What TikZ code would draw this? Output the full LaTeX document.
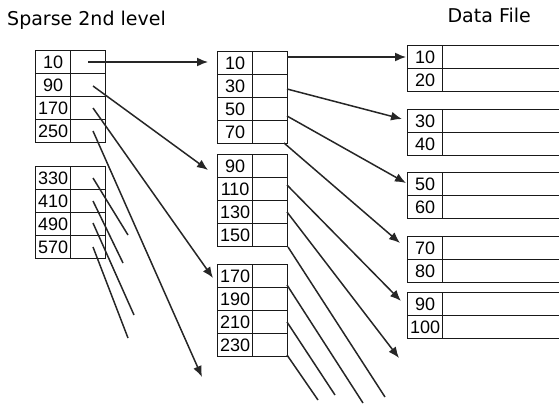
\documentclass[tikz,border=0pt]{standalone}
\usepackage{fontspec}
\setmainfont{Liberation Sans}
\newfontfamily\titlefont{DejaVu Sans}
\usetikzlibrary{arrows.meta}
\begin{document}
\begin{tikzpicture}[x=1pt,y=-1pt,
  cell/.style={draw=black!90, line width=1.3pt, inner sep=0pt, anchor=north west,
    minimum width=35pt, minimum height=23pt, font=\fontsize{18}{18}\selectfont},
  datacell/.style={cell, minimum width=130pt},
  ptr/.style={line width=1.5pt, draw=black!85},
  arr/.style={ptr, -{Latex[length=11pt,width=9pt]}},
  ttl/.style={font=\titlefont\fontsize{19}{19}\selectfont, inner sep=0pt}
]
\useasboundingbox (0,0) rectangle (559,405);
\clip (0,0) rectangle (559,405);

% titles
\node[ttl, anchor=base west] (t1) at (7,25) {Sparse 2nd level};
\node[ttl, anchor=base east] (t2) at (531,22) {Data File};

% sparse 2nd level tables
\foreach \k [count=\i] in {10,90,170,250} {
  \node[cell] (La\i) at (35,{50+23*(\i-1)}) {\k};
  \node[cell] (Lap\i) at (70,{50+23*(\i-1)}) {};
}
\foreach \k [count=\i] in {330,410,490,570} {
  \node[cell] (Lb\i) at (35,{166+23*(\i-1)}) {\k};
  \node[cell] (Lbp\i) at (70,{166+23*(\i-1)}) {};
}

% first level index blocks
\foreach \k [count=\i] in {10,30,50,70} {
  \node[cell] (Ma\i) at (217,{51+23*(\i-1)}) {\k};
  \node[cell] (Map\i) at (252,{51+23*(\i-1)}) {};
}
\foreach \k [count=\i] in {90,110,130,150} {
  \node[cell] (Mb\i) at (217,{154+23*(\i-1)}) {\k};
  \node[cell] (Mbp\i) at (252,{154+23*(\i-1)}) {};
}
\foreach \k [count=\i] in {170,190,210,230} {
  \node[cell] (Mc\i) at (217,{264+23*(\i-1)}) {\k};
  \node[cell] (Mcp\i) at (252,{264+23*(\i-1)}) {};
}

% data file blocks
\foreach \ka/\kb/\top [count=\i] in {10/20/45, 30/40/109, 50/60/172, 70/80/236, 90/100/292} {
  \node[cell] (Da\i) at (407,\top) {\ka};
  \node[datacell] (Dad\i) at (442,\top) {};
  \node[cell] (Db\i) at (407,{\top+23}) {\kb};
  \node[datacell] (Dbd\i) at (442,{\top+23}) {};
}

% pointer coordinates
\coordinate (s1) at (88,62);   \coordinate (e1) at (208,62);
\coordinate (s2) at (93,86);   \coordinate (e2) at (208,170);
\coordinate (s3) at (93,108);  \coordinate (e3) at (213,278);
\coordinate (s4) at (93,131);  \coordinate (e4) at (202,377);
\coordinate (s5) at (93,178);  \coordinate (e5) at (128,235);
\coordinate (s6) at (93,201);  \coordinate (e6) at (123,263);
\coordinate (s7) at (93,223);  \coordinate (e7) at (134,315);
\coordinate (s8) at (93,247);  \coordinate (e8) at (128,338);

\coordinate (m1) at (287,57);  \coordinate (f1) at (406,57);
\coordinate (m2) at (287,89);  \coordinate (f2) at (402,119);
\coordinate (m3) at (287,116); \coordinate (f3) at (406,183);
\coordinate (m4) at (284,143); \coordinate (f4) at (400,243);
\coordinate (m5) at (287,185); \coordinate (f5) at (401,301);
\coordinate (m6) at (287,212); \coordinate (f6) at (399,358);
\coordinate (m7) at (288,247); \coordinate (f7) at (385,397);
\coordinate (m8) at (287,285); \coordinate (f8) at (363,403);
\coordinate (m9) at (287,322); \coordinate (f9) at (335,395);
\coordinate (m10) at (287,355); \coordinate (f10) at (318,400);

% sparse level pointers
\foreach \n in {1,2,3,4} { \draw[arr] (s\n) -- (e\n); }
\foreach \n in {5,6,7,8} { \draw[ptr] (s\n) -- (e\n); }
% first level pointers
\foreach \n in {1,2,3,4,5,6} { \draw[arr] (m\n) -- (f\n); }
\foreach \n in {7,8,9,10} { \draw[ptr] (m\n) -- (f\n); }
\end{tikzpicture}
\end{document}
